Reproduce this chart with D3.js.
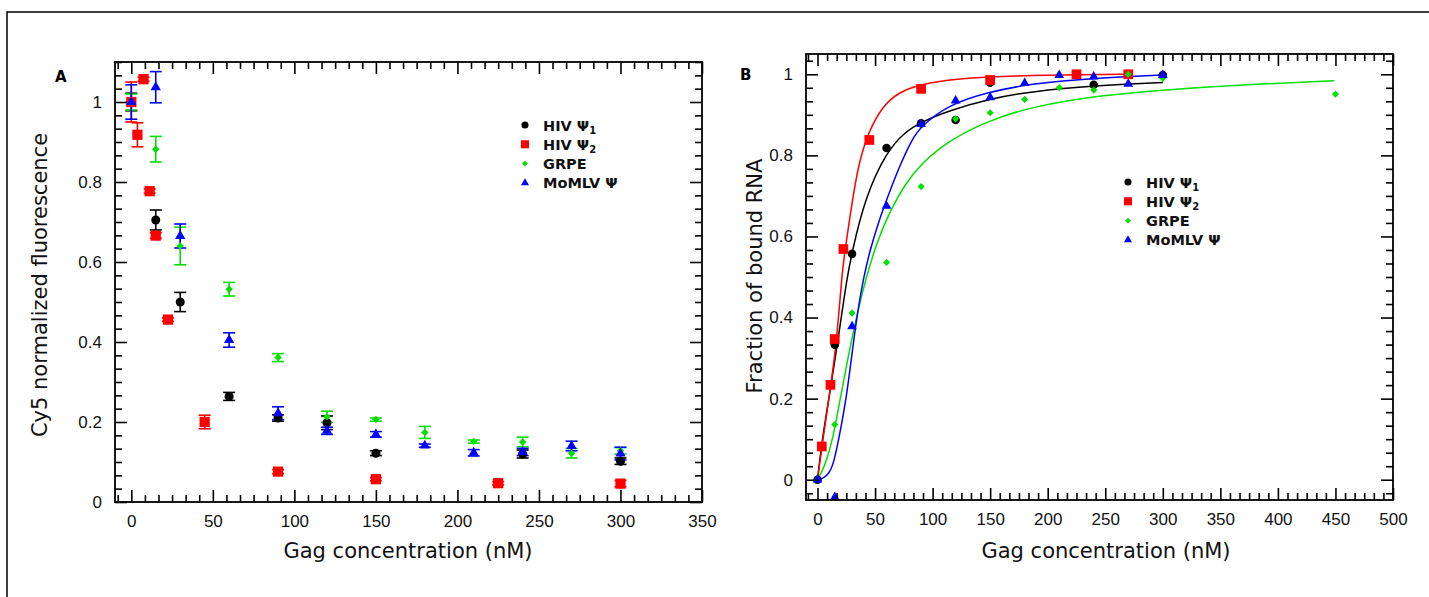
<!DOCTYPE html>
<html>
<head>
<meta charset="utf-8">
<script src="https://cdn.jsdelivr.net/npm/d3@7"></script>
<style>
    body { margin: 0; background: #fff; }
    svg { display: block; font-family: "DejaVu Sans", Verdana, sans-serif; }
    .axis text { font-size: 17px; fill: #111; }
    .axis line { stroke: #000; stroke-width: 1.6; }
    .legend text { font-size: 14.5px; font-weight: bold; fill: #111; }
    .title { font-size: 21px; fill: #111; }
    .panel_tag { font-size: 15px; font-weight: bold; }
</style>
</head>
<body>
<svg id="chart" width="1429" height="597"></svg>
<script>
// ---------- 数据: 面板A (Cy5 荧光) ----------
const psi1A_x = [0, 15, 30, 60, 90, 120, 150, 240, 300];
const psi1A_y = [1.0, 0.705, 0.5, 0.264, 0.21, 0.198, 0.122, 0.12, 0.102];
const psi1A_err = [0.022, 0.025, 0.024, 0.01, 0.008, 0.017, 0.006, 0.01, 0.008];

const psi2A_x = [0, 3.75, 7.5, 11.25, 15, 22.5, 45, 90, 150, 225, 300];
const psi2A_y = [1.0, 0.918, 1.057, 0.777, 0.666, 0.456, 0.2, 0.076, 0.057, 0.047, 0.046];
const psi2A_err = [0.05, 0.03, 0.005, 0.005, 0.007, 0.004, 0.017, 0.005, 0.004, 0.004, 0.008];

const grpeA_x = [0, 15, 30, 60, 90, 120, 150, 180, 210, 240, 270, 300];
const grpeA_y = [1.0, 0.882, 0.64, 0.532, 0.361, 0.213, 0.206, 0.174, 0.151, 0.15, 0.122, 0.128];
const grpeA_err = [0.02, 0.032, 0.047, 0.017, 0.01, 0.014, 0.004, 0.015, 0.004, 0.012, 0.012, 0.008];

const momlvA_x = [0, 15, 30, 60, 90, 120, 150, 180, 210, 240, 270, 300];
const momlvA_y = [1.0, 1.037, 0.665, 0.405, 0.222, 0.178, 0.169, 0.141, 0.123, 0.125, 0.14, 0.121];
const momlvA_err = [0.043, 0.039, 0.03, 0.018, 0.016, 0.009, 0.007, 0.004, 0.008, 0.009, 0.012, 0.016];

// ---------- 数据: 面板B (结合比例) ----------
const psi1B_x = [0, 15, 30, 60, 90, 120, 150, 240, 300];
const psi1B_y = [0, 0.333, 0.557, 0.818, 0.879, 0.887, 0.979, 0.974, 0.998];

const psi2B_x = [3.75, 11.25, 15, 22.5, 45, 90, 150, 225, 270];
const psi2B_y = [0.082, 0.234, 0.347, 0.569, 0.838, 0.964, 0.986, 1.0, 1.0];

const grpeB_x = [15, 30, 60, 90, 120, 150, 180, 210, 240, 270, 300, 450];
const grpeB_y = [0.136, 0.411, 0.536, 0.723, 0.89, 0.905, 0.938, 0.967, 0.961, 1.0, 0.99, 0.951];

const momlvB_x = [0, 15, 30, 60, 90, 120, 150, 180, 210, 240, 270, 300];
const momlvB_y = [0, -0.043, 0.378, 0.675, 0.877, 0.935, 0.943, 0.978, 0.998, 0.994, 0.976, 0.998];

// 拟合曲线 (从图上读取的点)
const psi1Fit_x = [0, 4.1, 9.9, 15.4, 20.6, 25.8, 29.8, 41.4, 60.2, 76.1, 90, 113.7, 148.4, 186, 241, 300];
const psi1Fit_y = [0, 0.1, 0.2, 0.3, 0.4, 0.5, 0.559, 0.697, 0.81, 0.858, 0.882, 0.91, 0.939, 0.958, 0.972, 0.98];

const psi2Fit_x = [0, 4.7, 9.9, 14.8, 18.3, 21.1, 23.4, 29.8, 35.6, 44.3, 55.9, 70.3, 90.6, 119.5, 148.4, 186, 230, 270];
const psi2Fit_y = [0, 0.1, 0.2, 0.3, 0.4, 0.5, 0.557, 0.68, 0.779, 0.858, 0.919, 0.956, 0.976, 0.988, 0.994, 0.997, 0.999, 1.0];

const grpeFit_x = [0, 6, 13.4, 19.7, 26.4, 33.6, 42.3, 51.6, 61.6, 76.1, 90, 113.7, 148.4, 186, 245, 303, 361, 449];
const grpeFit_y = [0, 0.03, 0.1, 0.2, 0.3, 0.4, 0.5, 0.585, 0.655, 0.73, 0.779, 0.836, 0.886, 0.92, 0.948, 0.962, 0.973, 0.984];

const momlvFit_x = [0, 5, 10, 14, 18.5, 25, 29.5, 34, 40, 46, 53, 60, 70, 82, 90, 114, 148, 186, 241, 300];
const momlvFit_y = [0, 0.003, 0.015, 0.04, 0.1, 0.2, 0.3, 0.4, 0.5, 0.57, 0.635, 0.69, 0.765, 0.84, 0.872, 0.925, 0.956, 0.977, 0.991, 0.998];

// 坐标轴刻度
const xTicksA = [0, 50, 100, 150, 200, 250, 300, 350];
const yTicksA = [0, 0.2, 0.4, 0.6, 0.8, 1];
const xTicksB = [0, 50, 100, 150, 200, 250, 300, 350, 400, 450, 500];
const yTicksB = [0, 0.2, 0.4, 0.6, 0.8, 1];

const legendNames = [['HIV Ψ', '1'], ['HIV Ψ', '2'], ['GRPE', ''], ['MoMLV Ψ', '']];
const colors = ['#000000', '#ff0000', '#00e000', '#0000ff'];
const shapes = ['circle', 'square', 'diamond', 'triangle'];

const zip = (xs, ys) => xs.map((v, i) => [v, ys[i]]);

const seriesA = [
    { x: psi1A_x, y: psi1A_y, err: psi1A_err },
    { x: psi2A_x, y: psi2A_y, err: psi2A_err },
    { x: grpeA_x, y: grpeA_y, err: grpeA_err },
    { x: momlvA_x, y: momlvA_y, err: momlvA_err }
];
const seriesB = [
    { pts: zip(psi1B_x, psi1B_y), fit: zip(psi1Fit_x, psi1Fit_y) },
    { pts: zip(psi2B_x, psi2B_y), fit: zip(psi2Fit_x, psi2Fit_y) },
    { pts: zip(grpeB_x, grpeB_y), fit: zip(grpeFit_x, grpeFit_y) },
    { pts: zip(momlvB_x, momlvB_y), fit: zip(momlvFit_x, momlvFit_y) }
];

const svg = d3.select('#chart');

// 外边框
svg.append('rect')
    .attr('x', 7).attr('y', 12)
    .attr('width', 1440).attr('height', 600)
    .attr('fill', 'none').attr('stroke', '#000').attr('stroke-width', 1.5);

// 符号
const markSize = { circle: 64, square: 105, diamond: 28, triangle: 46 };
function markPath(shape, k) {
    const s = markSize[shape] * k;
    if (shape === 'circle') return d3.symbol(d3.symbolCircle, s)();
    if (shape === 'square' || shape === 'diamond') return d3.symbol(d3.symbolSquare, s)();
    return d3.symbol(d3.symbolTriangle, s)();
}
function drawMark(g, shape, color, cx, cy, k) {
    g.append('path')
        .attr('d', markPath(shape, k))
        .attr('fill', color)
        .attr('transform', `translate(${cx},${cy})` + (shape === 'diamond' ? ' rotate(45)' : ''));
}

// 次刻度: 每个主刻度间分6格
function minorTicks(major, domain) {
    const step = (major[1] - major[0]) / 6;
    const out = [];
    for (let v = major[0] - step * Math.floor((major[0] - domain[0]) / step); v <= domain[1] + 1e-9; v += step) {
        if (!major.some(m => Math.abs(m - v) < step / 10)) out.push(v);
    }
    return out;
}

function drawAxes(g, x, y, xMajor, yMajor) {
    const [x0, x1] = x.range();
    const [y0, y1] = y.range();
    const xMinor = minorTicks(xMajor, x.domain());
    const yMinor = minorTicks(yMajor, y.domain());
    const fmt = d3.format('~g');
    const major = 12, minor = 7;

    const add = (axis, tr) => {
        const a = g.append('g').attr('class', 'axis').attr('transform', tr).call(axis);
        a.select('.domain').remove();
        return a;
    };
    // 下
    add(d3.axisBottom(x).tickValues(xMajor).tickSize(-major).tickPadding(13).tickFormat(fmt), `translate(0,${y0})`);
    add(d3.axisBottom(x).tickValues(xMinor).tickSize(-minor).tickFormat(''), `translate(0,${y0})`);
    // 上
    add(d3.axisTop(x).tickValues(xMajor).tickSize(-major).tickFormat(''), `translate(0,${y1})`);
    add(d3.axisTop(x).tickValues(xMinor).tickSize(-minor).tickFormat(''), `translate(0,${y1})`);
    // 左
    add(d3.axisLeft(y).tickValues(yMajor).tickSize(-major).tickPadding(13).tickFormat(fmt), `translate(${x0},0)`);
    add(d3.axisLeft(y).tickValues(yMinor).tickSize(-minor).tickFormat(''), `translate(${x0},0)`);
    // 右
    add(d3.axisRight(y).tickValues(yMajor).tickSize(-major).tickFormat(''), `translate(${x1},0)`);
    add(d3.axisRight(y).tickValues(yMinor).tickSize(-minor).tickFormat(''), `translate(${x1},0)`);

    g.append('rect')
        .attr('x', x0).attr('y', y1)
        .attr('width', x1 - x0).attr('height', y0 - y1)
        .attr('fill', 'none').attr('stroke', '#000').attr('stroke-width', 1.8);
}

function drawLegend(g, lx, ly) {
    const leg = g.append('g').attr('class', 'legend').attr('transform', `translate(${lx},${ly})`);
    legendNames.forEach((n, i) => {
        const cy = i * 19.3;
        drawMark(leg, shapes[i], colors[i], 0, cy, 0.62);
        const t = leg.append('text').attr('x', 18).attr('y', cy + 5.5);
        t.append('tspan').text(n[0]);
        if (n[1]) t.append('tspan').attr('font-size', '10px').attr('dy', 3).text(n[1]);
    });
}

// ---------- 面板 A ----------
const xA = d3.scaleLinear().domain([-10, 350]).range([115, 702]);
const yA = d3.scaleLinear().domain([0, 1.1]).range([502, 62]);
const gA = svg.append('g').attr('id', 'panel_a');

// 误差棒
seriesA.forEach((s, si) => {
    const eg = gA.append('g').attr('stroke', colors[si]).attr('stroke-width', 1.6);
    s.x.forEach((xv, i) => {
        const cx = xA(xv), top = yA(s.y[i] + s.err[i]), bot = yA(s.y[i] - s.err[i]);
        eg.append('line').attr('x1', cx).attr('x2', cx).attr('y1', top).attr('y2', bot);
        eg.append('line').attr('x1', cx - 6).attr('x2', cx + 6).attr('y1', top).attr('y2', top);
        eg.append('line').attr('x1', cx - 6).attr('x2', cx + 6).attr('y1', bot).attr('y2', bot);
    });
});
seriesA.forEach((s, si) => {
    s.x.forEach((xv, i) => drawMark(gA, shapes[si], colors[si], xA(xv), yA(s.y[i]), 1));
});
drawAxes(gA, xA, yA, xTicksA, yTicksA);
drawLegend(gA, 525, 125);

gA.append('text').attr('class', 'panel_tag').attr('x', 55).attr('y', 82).text('A');
gA.append('text').attr('class', 'title')
    .attr('text-anchor', 'middle')
    .attr('x', 408).attr('y', 558)
    .text('Gag concentration (nM)');
gA.append('text').attr('class', 'title')
    .attr('text-anchor', 'middle')
    .attr('transform', 'translate(47,285) rotate(-90)')
    .text('Cy5 normalized fluorescence');

// ---------- 面板 B ----------
const xB = d3.scaleLinear().domain([-10, 500]).range([806, 1393]);
const yB = d3.scaleLinear().domain([-0.05, 1.05]).range([500, 54]);
const gB = svg.append('g').attr('id', 'panel_b');

const line = d3.line()
    .x(d => xB(d[0]))
    .y(d => yB(d[1]))
    .curve(d3.curveBasis);

seriesB.forEach((s, si) => {
    gB.append('path')
        .attr('d', line(s.fit))
        .attr('fill', 'none')
        .attr('stroke', colors[si])
        .attr('stroke-width', 1.5);
});
seriesB.forEach((s, si) => {
    s.pts.forEach(p => drawMark(gB, shapes[si], colors[si], xB(p[0]), yB(p[1]), 0.9));
});
drawAxes(gB, xB, yB, xTicksB, yTicksB);
drawLegend(gB, 1128, 182);

gB.append('text').attr('class', 'panel_tag').attr('x', 740).attr('y', 80).text('B');
gB.append('text').attr('class', 'title')
    .attr('text-anchor', 'middle')
    .attr('x', 1106).attr('y', 558)
    .text('Gag concentration (nM)');
gB.append('text').attr('class', 'title')
    .attr('text-anchor', 'middle')
    .attr('transform', 'translate(762,276) rotate(-90)')
    .text('Fraction of bound RNA');
</script>
</body>
</html>
